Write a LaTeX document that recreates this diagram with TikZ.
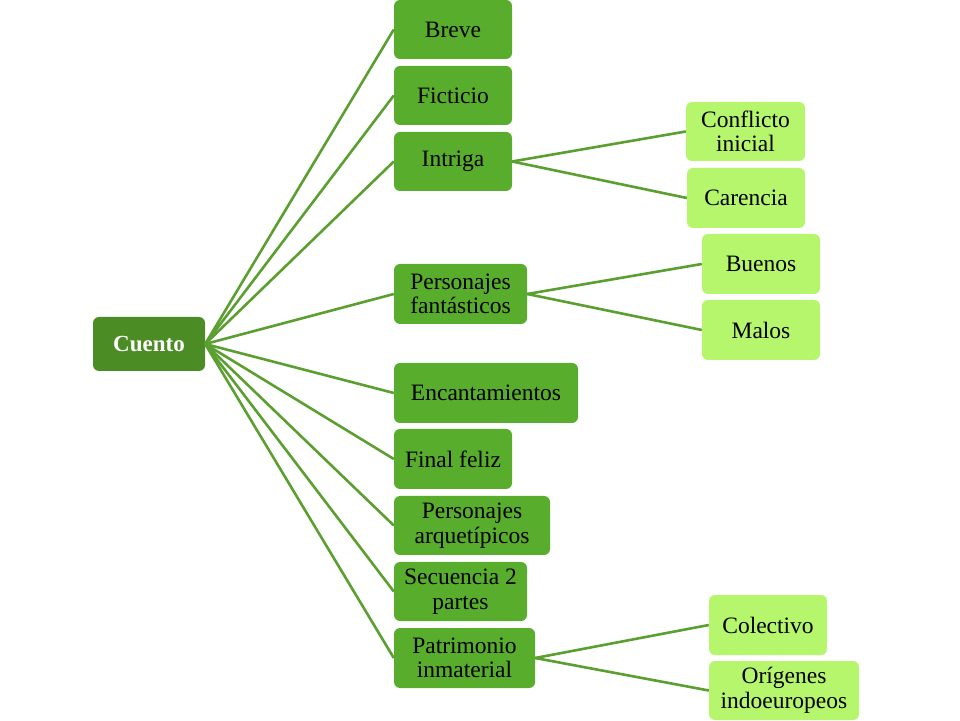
\documentclass[tikz,border=0pt]{standalone}
\usepackage{fontspec}
\setmainfont{Liberation Serif}
\definecolor{rootg}{HTML}{4B8C24}
\definecolor{midg}{HTML}{58AD2C}
\definecolor{lightg}{HTML}{B5F66C}
\definecolor{lineg}{HTML}{5B9F30}
\begin{document}
\begin{tikzpicture}[x=1pt,y=1pt,
  basebox/.style={rectangle, rounded corners=6pt, inner sep=0pt, align=center,
    font=\fontsize{23.5}{24.5}\selectfont, text=black},
  rootbox/.style={basebox, fill=rootg, text=white, font=\fontsize{23}{24}\selectfont\bfseries},
  lvone/.style={basebox, fill=midg},
  lvtwo/.style={basebox, fill=lightg},
  conn/.style={draw=lineg, line width=2.6pt}]
\useasboundingbox (0,0) rectangle (960,720);
\node[rootbox, minimum width=112, minimum height=54] (cuento) at (149,376) {Cuento};
\node[lvone, minimum width=118, minimum height=59] (breve) at (453,690.5) {Breve};
\node[lvone, minimum width=118, minimum height=59] (ficticio) at (453,624.5) {Ficticio};
\node[lvone, minimum width=118, minimum height=59] (intriga) at (453,558.5) {Intriga};
\node[lvone, minimum width=133, minimum height=60] (fant) at (460.5,426) {Personajes\\fantásticos};
\node[lvone, minimum width=184, minimum height=60] (encant) at (486,327) {Encantamientos};
\node[lvone, minimum width=118, minimum height=60] (final) at (453,261) {Final feliz};
\node[lvone, minimum width=156, minimum height=59] (arque) at (472,194.5) {Personajes\\arquetípicos};
\node[lvone, minimum width=133, minimum height=59] (secu) at (460.5,128.5) {Secuencia 2\\partes};
\node[lvone, minimum width=141, minimum height=60] (patri) at (464.5,62) {Patrimonio\\inmaterial};
\node[lvtwo, minimum width=119, minimum height=59] (confl) at (745.5,588.5) {Conflicto\\inicial};
\node[lvtwo, minimum width=118, minimum height=60] (caren) at (746,522) {Carencia};
\node[lvtwo, minimum width=118, minimum height=60] (buenos) at (761,456) {Buenos};
\node[lvtwo, minimum width=118, minimum height=60] (malos) at (761,390) {Malos};
\node[lvtwo, minimum width=118, minimum height=60] (colec) at (768,95) {Colectivo};
\node[lvtwo, minimum width=150, minimum height=59] (orig) at (784,29.5) {Orígenes\\indoeuropeos};
\foreach \n in {breve,ficticio,intriga,fant,encant,final,arque,secu,patri}
  \draw[conn] (cuento.east) -- (\n.west);
\draw[conn] (intriga.east) -- (confl.west);
\draw[conn] (intriga.east) -- (caren.west);
\draw[conn] (fant.east) -- (buenos.west);
\draw[conn] (fant.east) -- (malos.west);
\draw[conn] (patri.east) -- (colec.west);
\draw[conn] (patri.east) -- (orig.west);
\end{tikzpicture}
\end{document}
